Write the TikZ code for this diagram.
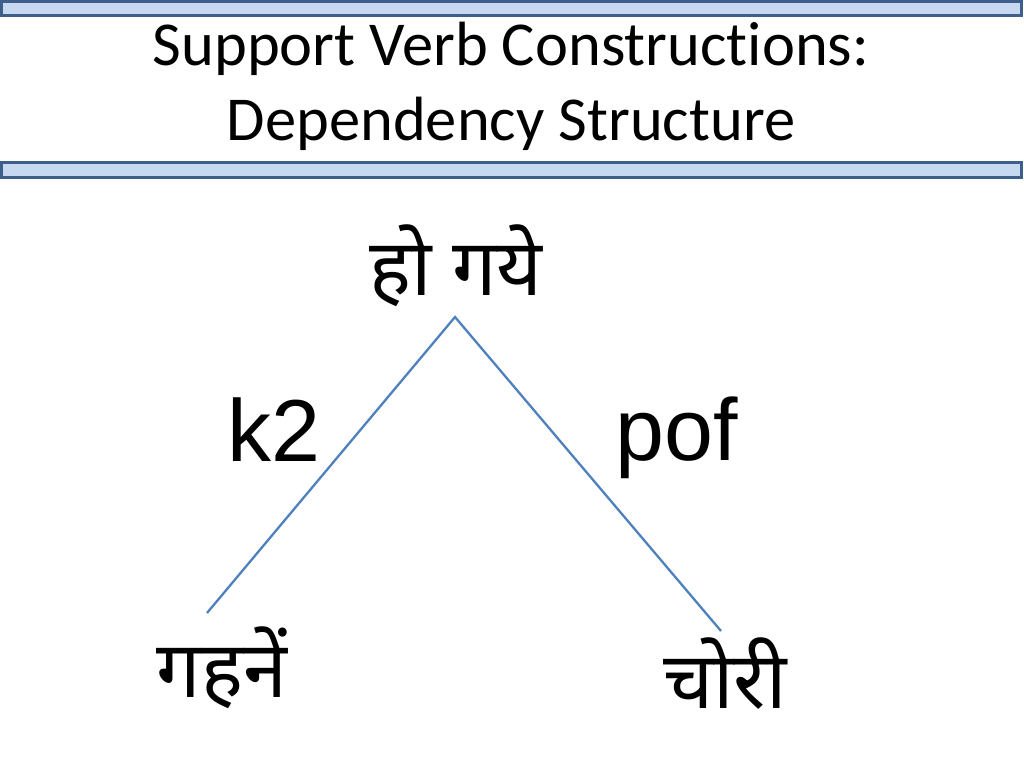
\documentclass[tikz,border=0pt]{standalone}
\usepackage{fontspec}
\setmainfont{Carlito}[Ligatures=NoCommon]
\newfontfamily\arialf{Liberation Sans}
\newfontfamily\devf[Script=Devanagari]{Noto Sans}
\definecolor{barfill}{HTML}{C6D9F1}
\definecolor{barline}{HTML}{3E5F8A}
\definecolor{edgeblue}{HTML}{4F81BD}
\begin{document}
\begin{tikzpicture}[x=1pt,y=-1pt,
  bar/.style={draw=barline,fill=barfill,line width=3pt},
  title/.style={font=\fontsize{62.5}{75}\selectfont,inner sep=0pt,anchor=base},
  word/.style={font=\devf\fontsize{79}{90}\selectfont,inner sep=0pt},
  rel/.style={font=\arialf\fontsize{88}{90}\selectfont,inner sep=0pt},
  edge/.style={draw=edgeblue,line width=2.3pt}]
\useasboundingbox (0,0) rectangle (1024,768);
\fill[white] (0,0) rectangle (1024,768);
\draw[bar] (1.5,1.5) rectangle (1021,16);
\draw[bar] (1.5,162) rectangle (1021,177);
\node[title] (t1) at (511,65) {Support Verb Constructions:};
\node[title] (t2) at (511,140) {Dependency Structure};
\node[word] (root) at (456,266) {हो गये};
\node[word] (l) at (222,668) {गहनें};
\node[word] (r) at (725,674) {चोरी};
\coordinate (apex) at (455,317);
\coordinate (le) at (207,613);
\coordinate (re) at (721,631);
\draw[edge] (le) -- (apex) -- (re);
\node[rel] (k) at (274,430) {k2};
\node[rel] (p) at (677,438) {pof};
\end{tikzpicture}
\end{document}
